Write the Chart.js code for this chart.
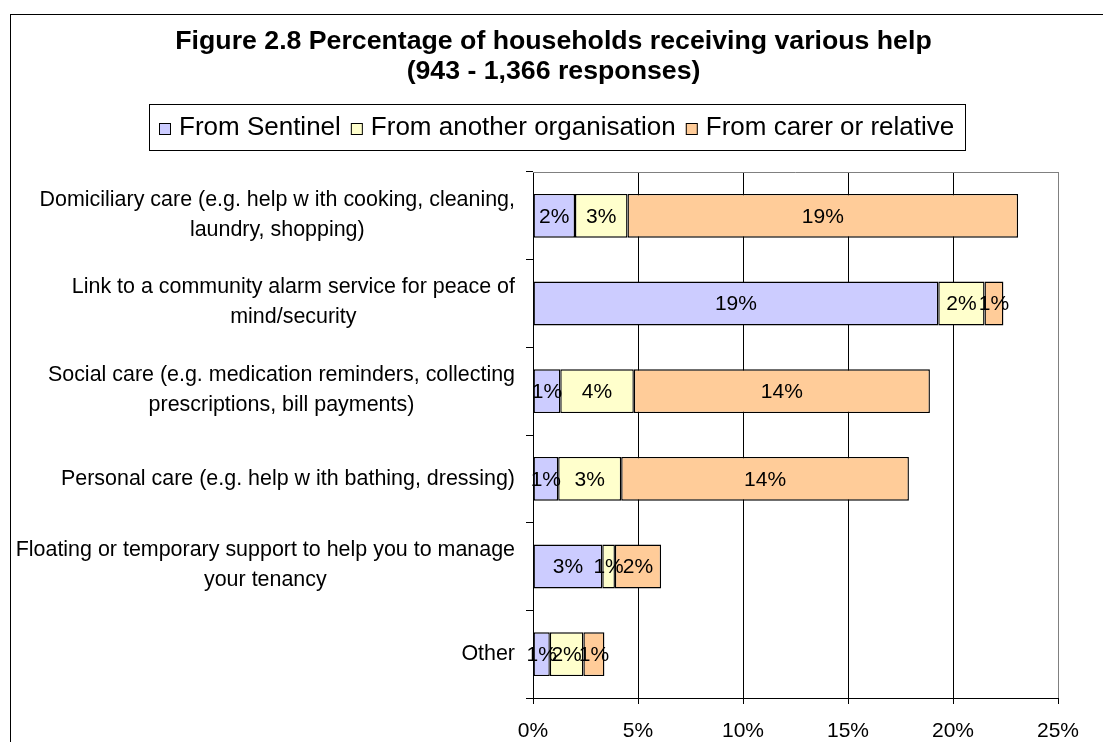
<!DOCTYPE html>
<html>
<head>
<meta charset="utf-8">
<script src="https://cdn.jsdelivr.net/npm/chart.js@4.4.1/dist/chart.umd.min.js"></script>
<style>
  html, body { margin: 0; padding: 0; background: #fff; overflow: hidden; }
  #wrap { width: 1103px; height: 742px; }
</style>
</head>
<body>
<div id="wrap"><canvas id="c" width="1103" height="742"></canvas></div>
<script>
// Help types (wrapped onto lines as they appear beside the bars)
const categories = [
  ['Domiciliary care (e.g. help w ith cooking, cleaning,', 'laundry, shopping)'],
  ['Link to a community alarm service for peace of', 'mind/security'],
  ['Social care (e.g. medication reminders, collecting', 'prescriptions, bill payments)'],
  ['Personal care (e.g. help w ith bathing, dressing)'],
  ['Floating or temporary support to help you to manage', 'your tenancy'],
  ['Other']
];

const seriesNames = ['From Sentinel', 'From another organisation', 'From carer or relative'];

// Percentage of households receiving each kind of help, by provider
const fromSentinel = [2.0, 19.3, 1.3, 1.2, 3.3, 0.8];
const fromAnotherOrganisation = [2.5, 2.2, 3.5, 3.0, 0.6, 1.6];
const fromCarerOrRelative = [18.6, 0.9, 14.1, 13.7, 2.2, 1.0];

const titleLines = ['Figure 2.8 Percentage of households receiving various help', '(943 - 1,366 responses)'];
const xTickValues = [0, 5, 10, 15, 20, 25];

const FONT = "'Liberation Sans', Arial, Helvetica, sans-serif";

// Outer chart frame and background
const framePlugin = {
  id: 'frame',
  beforeDraw(chart) {
    const ctx = chart.ctx;
    ctx.save();
    ctx.fillStyle = '#fff';
    ctx.fillRect(0, 0, chart.width, chart.height);
    ctx.strokeStyle = '#000';
    ctx.lineWidth = 1;
    ctx.strokeRect(10.5, 14.5, chart.width + 50, chart.height + 50);
    ctx.restore();
  }
};

// Two-line bold heading
const headingPlugin = {
  id: 'heading',
  afterDraw(chart) {
    const ctx = chart.ctx;
    ctx.save();
    ctx.font = 'bold 26.7px ' + FONT;
    ctx.fillStyle = '#000';
    ctx.textAlign = 'center';
    ctx.textBaseline = 'middle';
    const cx = chart.width / 2 + 2;
    titleLines.forEach((t, k) => ctx.fillText(t, cx, 42 + k * 30));
    ctx.restore();
  }
};

// Grey top edge of the plot area
const plotEdgePlugin = {
  id: 'plotEdge',
  beforeDatasetsDraw(chart) {
    const { ctx, chartArea } = chart;
    ctx.save();
    ctx.strokeStyle = '#808080';
    ctx.lineWidth = 1;
    ctx.beginPath();
    ctx.moveTo(chartArea.left, Math.round(chartArea.top) + 0.5);
    ctx.lineTo(chartArea.right + 0.5, Math.round(chartArea.top) + 0.5);
    ctx.stroke();
    ctx.restore();
  }
};

// Percent labels centred in each bar segment
const segmentLabelPlugin = {
  id: 'segmentLabels',
  afterDatasetsDraw(chart) {
    const ctx = chart.ctx;
    ctx.save();
    ctx.font = '21px ' + FONT;
    ctx.fillStyle = '#000';
    ctx.textAlign = 'center';
    ctx.textBaseline = 'middle';
    chart.data.datasets.forEach((ds, di) => {
      const meta = chart.getDatasetMeta(di);
      meta.data.forEach((bar, i) => {
        const v = ds.data[i];
        ctx.fillText(Math.round(v) + '%', (bar.x + bar.base) / 2, bar.y + 1);
      });
    });
    ctx.restore();
  }
};

// Category names: each block centred on itself, right edge near the axis
const categoryLabelPlugin = {
  id: 'categoryLabels',
  afterDraw(chart) {
    const { ctx, chartArea } = chart;
    const yScale = chart.scales.y;
    ctx.save();
    ctx.font = '21.45px ' + FONT;
    ctx.fillStyle = '#000';
    ctx.textAlign = 'center';
    ctx.textBaseline = 'middle';
    const lineH = 30;
    chart.data.labels.forEach((lines, i) => {
      const y = yScale.getPixelForValue(i);
      const maxW = Math.max(...lines.map(l => ctx.measureText(l).width));
      const cx = chartArea.left - 18 - maxW / 2;
      const y0 = y - (lines.length - 1) * lineH / 2 - (lines.length > 1 ? 1 : 0);
      lines.forEach((l, k) => ctx.fillText(l, cx, y0 + k * lineH));
    });
    ctx.restore();
  }
};

// Boxed legend under the heading
const boxedLegendPlugin = {
  id: 'boxedLegend',
  afterDraw(chart) {
    const ctx = chart.ctx;
    const ds = chart.data.datasets;
    ctx.save();
    ctx.font = '26px ' + FONT;
    const marker = 12, markerGap = 8, itemGap = 10, padL = 10, padR = 11;
    const widths = ds.map(d => ctx.measureText(d.label).width);
    let total = padL + padR;
    widths.forEach((w, i) => { total += marker + markerGap + w + (i < widths.length - 1 ? itemGap : 0); });
    total = Math.round(total);
    const boxTop = 104, boxH = 46;
    const left = Math.round(557 - total / 2);
    ctx.strokeStyle = '#000';
    ctx.lineWidth = 1;
    ctx.strokeRect(left + 0.5, boxTop + 0.5, total, boxH);
    const cy = boxTop + boxH / 2 + 1;
    let x = left + padL;
    ctx.textBaseline = 'middle';
    ctx.textAlign = 'left';
    ds.forEach((d, i) => {
      const my = Math.round(cy - marker / 2 + 1);
      ctx.fillStyle = d.backgroundColor;
      ctx.fillRect(x, my, marker, marker);
      ctx.strokeStyle = '#000';
      ctx.strokeRect(x + 0.5, my + 0.5, marker - 1, marker - 1);
      x += marker + markerGap;
      ctx.fillStyle = '#000';
      ctx.fillText(d.label, x, cy);
      x += widths[i] + itemGap;
    });
    ctx.restore();
  }
};

const seriesValues = [fromSentinel, fromAnotherOrganisation, fromCarerOrRelative];
const seriesFill = ['#CCCCFF', '#FFFFCC', '#FFCC99'];

new Chart(document.getElementById('c'), {
  type: 'bar',
  data: {
    labels: categories,
    datasets: seriesNames.map((name, i) => ({
      label: name,
      data: seriesValues[i],
      backgroundColor: seriesFill[i],
      borderColor: '#000',
      borderWidth: 1.4,
      borderSkipped: false,
      barPercentage: 0.5,
      categoryPercentage: 1.0
    }))
  },
  options: {
    indexAxis: 'y',
    responsive: false,
    animation: false,
    devicePixelRatio: 1,
    layout: { padding: { left: 0, right: 45, top: 172, bottom: 0 } },
    plugins: {
      legend: { display: false },
      tooltip: { enabled: false },
      title: { display: false }
    },
    scales: {
      x: {
        type: 'linear',
        stacked: true,
        min: 0,
        max: 25,
        afterBuildTicks(scale) { scale.ticks = xTickValues.map(v => ({ value: v })); },
        ticks: {
          callback: v => v + '%',
          color: '#000',
          font: { family: FONT, size: 21 },
          padding: 15,
          maxRotation: 0
        },
        grid: {
          color: c => (c.tick && c.tick.value === 25 ? '#808080' : '#000'),
          tickColor: '#000',
          lineWidth: 1,
          tickLength: 6
        },
        border: { color: '#000', width: 1 },
        afterFit(scale) { scale.height = 44; }
      },
      y: {
        stacked: true,
        ticks: { display: false },
        grid: { drawOnChartArea: false, drawTicks: true, tickLength: 7, color: '#000', offset: true },
        border: { color: '#000', width: 1 },
        afterFit(scale) { scale.width = 533; }
      }
    }
  },
  plugins: [framePlugin, headingPlugin, plotEdgePlugin, segmentLabelPlugin, categoryLabelPlugin, boxedLegendPlugin]
});
</script>
</body>
</html>
